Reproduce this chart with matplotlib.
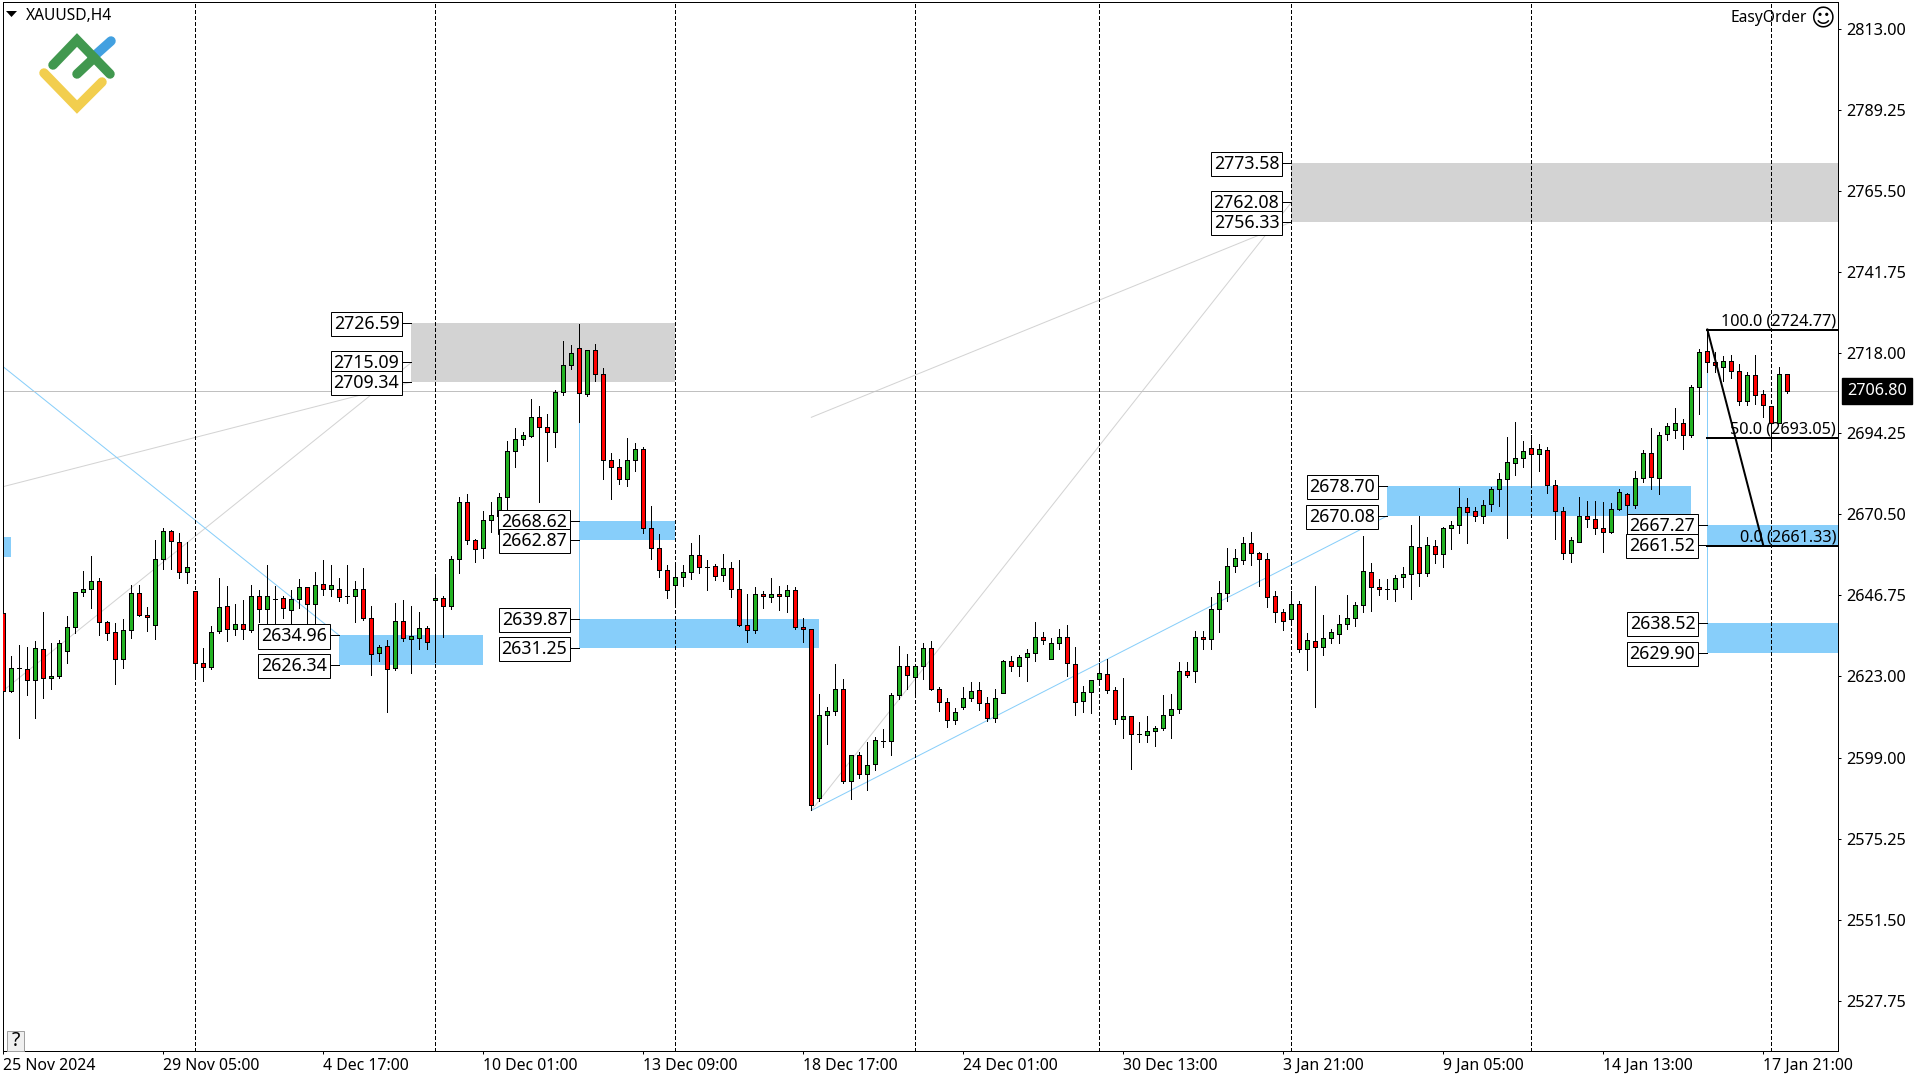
import numpy as np
import matplotlib
matplotlib.use('Agg')
import matplotlib.pyplot as plt
from matplotlib.lines import Line2D
from matplotlib.patches import Polygon, Rectangle
from matplotlib.transforms import IdentityTransform

plt.rcParams['font.family'] = ['Noto Sans', 'DejaVu Sans']

# XAUUSD H4 candles
opens = [2641.7,2618.6,2625.3,2625.2,2622.0,2631.1,2622.4,2623.0,2630.5,2637.5,
    2647.7,2648.7,2651.1,2639.0,2636.1,2628.1,2636.6,2647.5,2641.1,2638.1,
    2657.5,2665.5,2662.5,2653.7,2648.1,2627.0,2625.7,2636.3,2643.7,2636.9,
    2638.4,2636.6,2646.6,2642.8,2645.8,2646.1,2642.5,2645.8,2649.3,2644.2,
    2650.2,2648.7,2648.7,2646.5,2646.6,2648.7,2640.2,2629.9,2632.0,2625.4,
    2639.3,2634.0,2634.3,2637.2,2645.5,2646.1,2643.7,2657.5,2674.0,2663.1,
    2660.7,2669.0,2669.9,2675.5,2689.0,2692.5,2693.4,2699.0,2696.3,2694.6,
    2706.3,2714.3,2719.3,2705.7,2718.7,2711.6,2686.6,2684.3,2681.0,2686.6,
    2689.6,2666.6,2660.5,2654.3,2649.9,2652.0,2653.7,2658.7,2655.2,2655.5,
    2652.8,2654.9,2648.7,2638.1,2636.6,2647.2,2646.4,2647.2,2646.6,2648.4,
    2637.5,2636.9,2587.2,2611.7,2612.9,2619.3,2592.2,2599.9,2594.3,2597.3,
    2604.1,2604.0,2617.5,2626.1,2622.8,2626.1,2631.4,2619.3,2615.5,2610.2,
    2613.9,2616.6,2618.9,2615.1,2610.7,2618.1,2627.5,2626.0,2628.6,2629.8,
    2634.5,2628.1,2632.8,2634.5,2626.6,2615.7,2618.3,2622.2,2623.6,2618.9,
    2610.4,2611.3,2606.0,2605.7,2606.9,2607.8,2611.6,2613.4,2624.5,2624.5,
    2634.5,2633.9,2642.8,2647.5,2655.4,2657.2,2662.2,2659.2,2657.5,2646.6,
    2641.9,2639.8,2644.2,2631.0,2633.3,2631.6,2634.2,2635.4,2638.3,2640.1,
    2643.9,2653.6,2649.2,2648.6,2648.6,2652.2,2653.0,2661.0,2653.3,2661.3,
    2658.8,2666.5,2667.3,2672.6,2671.5,2670.0,2673.5,2677.9,2680.9,2685.6,
    2687.0,2690.0,2688.2,2689.4,2679.1,2671.5,2659.1,2662.3,2670.0,2669.1,
    2666.5,2665.3,2672.0,2676.5,2673.2,2681.2,2688.5,2681.2,2694.1,2695.3,
    2697.3,2693.8,2707.9,2718.5,2715.3,2713.8,2715.6,2712.6,2703.8,2711.4,
    2705.9,2702.3,2697.3,2711.7]
closes = [2618.8,2625.5,2625.3,2622.0,2631.4,2622.4,2623.1,2632.8,2637.5,2647.8,
    2648.7,2651.1,2638.9,2635.8,2628.1,2636.6,2647.5,2641.0,2640.5,2657.5,
    2665.5,2662.8,2653.7,2655.2,2627.0,2625.8,2636.1,2643.4,2636.9,2638.4,
    2636.9,2646.6,2642.8,2646.6,2645.8,2643.1,2645.8,2649.3,2644.2,2649.9,
    2648.7,2649.9,2646.4,2646.5,2648.7,2640.2,2629.6,2631.7,2625.2,2639.3,
    2634.3,2634.9,2637.2,2633.1,2646.1,2643.7,2657.5,2674.0,2663.1,2660.2,
    2669.0,2670.2,2675.5,2689.0,2692.5,2693.7,2699.0,2696.3,2694.6,2706.3,
    2714.3,2717.8,2706.0,2718.7,2711.6,2686.6,2684.3,2681.0,2686.6,2689.6,
    2666.6,2660.5,2654.3,2648.4,2652.0,2653.7,2658.7,2655.2,2655.2,2652.5,
    2654.9,2648.7,2638.1,2636.6,2647.2,2646.6,2647.2,2646.6,2648.4,2637.5,
    2636.9,2585.2,2611.7,2612.9,2619.3,2592.2,2599.9,2594.3,2597.0,2604.3,
    2604.1,2617.5,2626.1,2623.4,2626.1,2631.4,2619.3,2615.5,2610.2,2612.5,
    2616.6,2618.6,2615.1,2610.7,2616.6,2627.5,2626.0,2628.6,2629.8,2634.5,
    2633.6,2632.8,2634.5,2626.9,2615.3,2618.3,2621.9,2623.9,2618.9,2610.4,
    2611.3,2606.0,2606.0,2606.9,2607.8,2611.6,2613.4,2624.5,2623.3,2634.5,
    2633.9,2642.8,2647.5,2655.4,2657.7,2662.2,2659.2,2657.5,2646.3,2641.9,
    2639.2,2644.2,2631.0,2633.6,2631.6,2634.2,2636.0,2638.3,2640.1,2643.9,
    2653.9,2649.2,2648.6,2648.6,2651.9,2653.0,2661.3,2653.3,2661.6,2658.9,
    2666.5,2667.3,2672.6,2671.2,2670.0,2673.2,2677.9,2680.9,2685.9,2687.0,
    2689.1,2688.2,2689.7,2679.1,2671.5,2659.1,2662.9,2670.0,2669.1,2666.5,
    2665.3,2672.0,2677.0,2673.2,2681.2,2688.5,2681.5,2693.8,2696.5,2697.3,
    2693.8,2707.9,2718.2,2715.3,2714.4,2715.6,2712.6,2703.8,2711.4,2705.6,
    2702.6,2697.3,2711.7,2706.8]
highs = [2641.7,2628.8,2632.3,2631.6,2633.2,2642.0,2632.9,2633.5,2640.6,2647.8,
    2653.8,2658.2,2651.7,2639.3,2638.5,2639.7,2649.7,2649.7,2643.2,2662.9,
    2666.4,2665.8,2664.9,2662.3,2648.1,2631.2,2637.6,2651.8,2649.4,2644.3,
    2645.3,2649.9,2648.2,2655.6,2649.4,2646.5,2648.2,2651.5,2649.3,2653.5,
    2657.0,2655.6,2651.8,2655.6,2650.9,2654.7,2643.5,2632.3,2633.7,2644.6,
    2645.5,2643.5,2641.8,2637.6,2651.7,2646.6,2658.4,2675.6,2676.4,2663.4,
    2671.4,2674.1,2676.9,2692.0,2695.8,2694.7,2704.4,2702.3,2700.0,2706.9,
    2721.4,2720.2,2726.4,2718.7,2720.5,2713.5,2688.4,2686.9,2692.9,2691.4,
    2690.3,2672.9,2664.7,2655.6,2655.6,2655.6,2662.0,2664.4,2657.0,2655.8,
    2658.8,2656.4,2657.0,2647.0,2649.1,2648.1,2651.8,2649.4,2649.7,2649.3,
    2640.0,2636.9,2617.9,2614.1,2626.5,2622.1,2599.9,2600.8,2603.7,2605.2,
    2607.6,2618.1,2632.0,2629.4,2626.1,2632.9,2633.2,2619.9,2616.7,2613.7,
    2619.9,2621.4,2621.4,2616.9,2619.2,2627.8,2628.9,2629.2,2631.1,2639.0,
    2636.1,2634.2,2637.0,2638.1,2631.7,2620.1,2621.9,2626.9,2628.1,2619.9,
    2622.6,2611.3,2609.5,2611.4,2608.4,2617.6,2617.9,2627.3,2627.3,2636.4,
    2636.4,2646.3,2651.0,2660.5,2660.4,2664.0,2665.2,2659.5,2659.2,2648.0,
    2642.8,2648.0,2645.1,2635.7,2649.6,2641.1,2636.9,2641.1,2646.7,2644.8,
    2664.3,2656.1,2651.4,2651.6,2652.7,2655.2,2667.5,2669.9,2664.0,2663.1,
    2666.7,2668.6,2678.3,2675.3,2672.6,2674.7,2678.4,2682.6,2693.3,2697.7,
    2692.1,2693.8,2691.2,2690.3,2680.6,2672.6,2663.9,2675.5,2674.4,2674.5,
    2674.1,2673.8,2677.9,2676.7,2683.2,2689.4,2696.0,2694.7,2697.3,2701.7,
    2698.5,2708.5,2719.1,2724.7,2718.1,2717.1,2717.3,2714.7,2712.3,2717.3,
    2707.0,2702.3,2713.9,2711.7]
lows = [2615.4,2618.3,2604.9,2617.6,2610.7,2616.6,2619.2,2622.5,2626.9,2635.7,
    2646.5,2643.0,2635.1,2633.6,2620.7,2625.4,2634.2,2640.7,2636.3,2633.9,
    2654.5,2654.5,2651.9,2650.4,2622.7,2621.6,2625.2,2635.7,2633.3,2635.0,
    2633.9,2636.0,2638.9,2637.9,2636.9,2640.1,2637.4,2643.1,2636.5,2632.2,
    2646.7,2646.5,2645.1,2644.5,2639.0,2639.6,2623.3,2627.6,2612.4,2624.9,
    2633.3,2623.9,2631.1,2631.0,2627.2,2634.6,2642.7,2653.4,2661.7,2656.5,
    2657.7,2665.4,2661.2,2669.8,2684.5,2690.9,2693.3,2674.2,2686.2,2690.4,
    2705.5,2713.3,2697.7,2705.2,2709.7,2681.0,2675.1,2679.5,2678.9,2683.3,
    2665.1,2657.4,2652.1,2646.0,2643.3,2649.5,2651.6,2653.4,2648.3,2651.3,
    2651.0,2646.3,2637.8,2633.0,2635.7,2643.0,2644.8,2642.4,2641.9,2636.9,
    2633.0,2583.6,2586.5,2603.0,2611.6,2591.6,2586.9,2593.1,2589.5,2595.4,
    2602.2,2599.8,2616.4,2619.2,2617.4,2622.2,2619.0,2612.8,2608.0,2609.0,
    2613.3,2615.6,2613.0,2609.9,2609.5,2618.0,2624.4,2623.2,2621.5,2627.6,
    2632.4,2628.0,2630.9,2623.2,2611.5,2612.6,2612.3,2620.9,2618.0,2609.1,
    2605.0,2595.9,2603.6,2603.6,2602.4,2607.2,2605.0,2612.2,2622.7,2621.2,
    2630.9,2630.9,2635.9,2645.0,2653.5,2656.0,2655.6,2649.6,2643.2,2638.8,
    2636.5,2638.3,2630.0,2624.7,2614.1,2629.1,2632.7,2632.7,2636.9,2637.7,
    2641.8,2642.1,2646.8,2645.7,2645.0,2649.3,2645.6,2649.4,2652.4,2656.2,
    2655.2,2660.2,2665.0,2662.2,2668.5,2668.1,2671.4,2673.1,2663.7,2682.2,
    2684.3,2678.8,2683.1,2676.9,2663.4,2657.3,2656.4,2662.3,2666.7,2664.7,
    2659.6,2665.0,2671.8,2669.1,2672.3,2679.9,2677.9,2676.4,2692.2,2692.9,
    2689.6,2693.3,2700.0,2712.3,2712.3,2709.6,2710.6,2702.6,2702.5,2702.9,
    2699.1,2689.2,2697.3,2706.2]

price_ticks = [2813.00,2789.25,2765.50,2741.75,2718.00,2694.25,2670.50,2646.75,
    2623.00,2599.00,2575.25,2551.50,2527.75]
time_bars = [0,20,40,60,80,100,120,140,160,180,200,220]
time_labels = ['25 Nov 2024','29 Nov 05:00','4 Dec 17:00','10 Dec 01:00','13 Dec 09:00',
    '18 Dec 17:00','24 Dec 01:00','30 Dec 13:00','3 Jan 21:00','9 Jan 05:00',
    '14 Jan 13:00','17 Jan 21:00']
period_bars = [24,54,84,114,137,161,191,221]
last_price = 2706.80

# zones: first bar, last bar, top, bottom
gray_zones = [(51,84,2726.59,2709.34),(161,230,2773.58,2756.33)]
blue_zones = [(-1,1,2663.8,2657.9),(42,60,2634.96,2626.34),(72,84,2668.62,2662.87),
    (72,102,2639.87,2631.25),(173,211,2678.70,2670.08),(213,230,2667.27,2661.52),
    (213,230,2638.52,2629.90)]

# price tags: bar, price
tags = [(51,2726.59),(51,2715.09),(51,2709.34),(42,2634.96),(42,2626.34),(72,2668.62),
    (72,2662.87),(72,2639.87),(72,2631.25),(161,2773.58),(161,2762.08),(161,2756.33),
    (173,2678.70),(173,2670.08),(213,2667.27),(213,2661.52),(213,2638.52),(213,2629.90)]

# trend lines: bar, price, bar, price
gray_trends = [(-0.1,2678.6,51,2709.34),(0,2618.8,51,2715.09),(101,2699.0,161,2756.33),
    (101,2583.6,161,2762.08)]
blue_trends = [(-0.1,2714.0,42,2634.96),(101,2583.6,173,2670.08),(72,2697.7,72,2631.25),
    (213,2724.77,213,2629.90)]

fib_levels = [100.0,50.0,0.0]
fib_prices = [2724.77,2693.05,2661.33]

BLUE = '#87cefa'
GRAY = '#d3d3d3'
PX = 0.72  # one pixel in points at dpi 100

fig = plt.figure(figsize=(19.2,10.8), dpi=100, facecolor='white')
ax = fig.add_axes([2.5/1920, 29/1080, 1835.5/1920, 1049/1080])
ax.set_xlim(-0.104, 229.33)
ax.set_ylim(2513.0, 2820.9)

for x0, x1, top, bottom in gray_zones:
    ax.add_patch(Rectangle((x0,bottom), x1-x0, top-bottom, fc=GRAY, ec='none', zorder=1))
for x0, x1, top, bottom in blue_zones:
    ax.add_patch(Rectangle((x0,bottom), x1-x0, top-bottom, fc=BLUE, ec='none', zorder=1))

for x0, y0, x1, y1 in gray_trends:
    ax.plot([x0,x1], [y0,y1], color=GRAY, lw=PX, zorder=2)
for x0, y0, x1, y1 in blue_trends:
    ax.plot([x0,x1], [y0,y1], color=BLUE, lw=PX, zorder=2)

ax.axhline(last_price, color='#c0c0c0', lw=PX, zorder=2)
for b in period_bars:
    ax.axvline(b, color='black', lw=PX, dashes=(3.5,2.5), zorder=2, antialiased=False)

# candles
bars = np.arange(len(closes))
o = np.array(opens)
c = np.array(closes)
ax.vlines(bars, lows, highs, color='black', lw=PX, zorder=3, antialiased=False)
colors = np.where(c >= o, '#22b222', '#ff0000')
ax.bar(bars, np.abs(c-o), bottom=np.minimum(o,c), width=0.5, color=colors, edgecolor='black',
    linewidth=PX, zorder=4, antialiased=False)

# fibo on top of the candles
for level, price in zip(fib_levels, fib_prices):
    ax.plot([213,230], [price,price], color='black', lw=2*PX, zorder=5)
    ax.annotate('%.1f (%.2f)' % (level,price), xy=(1,price), xycoords=ax.get_yaxis_transform(),
        xytext=(-2,0.5), textcoords='offset pixels', ha='right', va='bottom', fontsize=11.7, zorder=6)
ax.plot([213,220], [fib_prices[0],fib_prices[2]], color='black', lw=2*PX, zorder=5)

for bar, price in tags:
    ax.plot([bar-1.25,bar], [price,price], color='black', lw=PX, zorder=6)
    ax.annotate('%.2f' % price, xy=(bar,price), xytext=(-12,1), textcoords='offset pixels',
        ha='right', va='center_baseline', fontsize=12.8, zorder=7,
        bbox=dict(boxstyle='square,pad=0.17', fc='white', ec='black', lw=PX))

ax.annotate('%.2f' % last_price, xy=(1,last_price), xycoords=ax.get_yaxis_transform(),
    xytext=(9,0), textcoords='offset pixels', ha='left', va='center', color='white',
    fontsize=11.7, annotation_clip=False,
    bbox=dict(boxstyle='square,pad=0.3', fc='black', ec='black'))

ax.yaxis.tick_right()
ax.set_yticks(price_ticks)
ax.set_yticklabels(['%.2f' % p for p in price_ticks], fontsize=11.7)
ax.set_xticks(time_bars)
ax.set_xticklabels(time_labels, fontsize=11.4, ha='left')
ax.tick_params(axis='y', length=2.2, width=PX, pad=4)
ax.tick_params(axis='x', length=2.2, width=PX, pad=3)
for s in ax.spines.values():
    s.set_linewidth(PX)

# window furniture in pixels, y counted from the top
def top_y(y):
    return 1080 - y

fig.add_artist(Polygon([(6,top_y(11)),(17,top_y(11)),(11.5,top_y(17))], fc='black', ec='none',
    transform=IdentityTransform()))
fig.text(26/1920, 1-15.5/1080, 'XAUUSD,H4', fontsize=11.2, va='center', ha='left')
fig.text(1807/1920, 1-18/1080, 'EasyOrder', fontsize=11.2, va='center', ha='right')
fig.text(1822/1920, 1-19/1080, '\u263a', fontsize=17, va='center', ha='center', family='DejaVu Sans')

# logo strokes, blue goes under the green
logo = [([92,111],[58,41],'#42a0e0'), ([53,77,110],[65,40,74],'#41984f'), ([77,94],[74,58],'#41984f'),
    ([44,77,102],[73,107,82],'#f2ce4e')]
for xs, ys, col in logo:
    fig.add_artist(Line2D(xs, [top_y(y) for y in ys], color=col, lw=9.5*PX, solid_capstyle='round',
        solid_joinstyle='miter', transform=IdentityTransform()))

fig.add_artist(Rectangle((7,top_y(1051)), 17, 20, fc='#f0f0f0', ec='#a0a0a0', lw=PX,
    transform=IdentityTransform()))
fig.text(15.5/1920, 1-1041/1080, '?', fontsize=14, va='center', ha='center')

fig.savefig('out.png', dpi=100)
